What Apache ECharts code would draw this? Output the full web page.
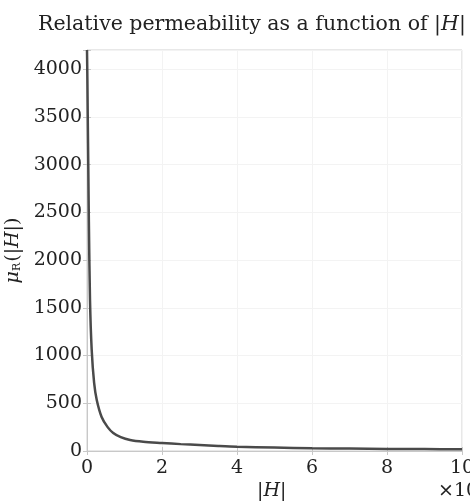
<!DOCTYPE html>
<html>
<head>
<meta charset="utf-8">
<script src="https://cdn.jsdelivr.net/npm/echarts@6/dist/echarts.min.js"></script>
<style>
  html, body { margin: 0; padding: 0; background: #fff; }
  #main { width: 470px; height: 503px; }
</style>
</head>
<body>
<div id="main"></div>
<script>
// |H| (x10^4) and relative permeability
var hValues = [0, 0.01, 0.02, 0.035, 0.05, 0.08, 0.125, 0.19, 0.26, 0.39, 0.55, 0.7, 0.9, 1.15, 1.5, 2, 2.5, 3, 3.5, 4, 5, 6, 7, 8, 9, 10];
var muValues = [4200, 3900, 3500, 2950, 2400, 1585, 1060, 714, 535, 357, 250, 189, 145, 115, 97, 84, 72, 62, 52, 44, 36, 28, 25, 22, 20, 18];
var xTicks = [0, 2, 4, 6, 8, 10];
var yTicks = [0, 500, 1000, 1500, 2000, 2500, 3000, 3500, 4000];

var serif = 'DejaVu Serif';
var points = [];
for (var i = 0; i < hValues.length; i++) {
    points.push([hValues[i], muValues[i]]);
}

var myChart = echarts.init(document.getElementById('main'));

var tickFmt = function (v) {
    return yTicks.indexOf(v) >= 0 ? String(v) : '';
};

option = {
    animation: false,
    backgroundColor: '#fff',
    grid: {
        left: 87, right: 8, top: 50, bottom: 52,
        containLabel: false, outerBoundsMode: 'none',
        show: true, borderColor: '#d0d0d0', borderWidth: 1
    },
    xAxis: [{
        type: 'value', min: 0, max: 10, interval: 2,
        axisLine: { lineStyle: { color: '#c8c8c8' } },
        axisTick: { inside: true, length: 4, lineStyle: { color: '#c8c8c8' } },
        splitLine: { show: true, lineStyle: { color: '#f3f3f3' } },
        axisLabel: { color: '#222', fontFamily: serif, fontSize: 19, margin: 8 }
    }, {
        type: 'value', min: 0, max: 10, interval: 2, position: 'top',
        axisLine: { show: false },
        axisTick: { inside: true, length: 4, lineStyle: { color: '#c8c8c8' } },
        splitLine: { show: false },
        axisLabel: { show: false }
    }],
    yAxis: [{
        type: 'value', min: 0, max: 4200, interval: 500,
        axisLine: { show: true, lineStyle: { color: '#c8c8c8' } },
        axisTick: { inside: true, length: 4, lineStyle: { color: '#c8c8c8' } },
        splitLine: { show: true, lineStyle: { color: '#f3f3f3' } },
        axisLabel: { color: '#222', fontFamily: serif, fontSize: 19, margin: 5, formatter: tickFmt },
        name: '{i|μ}{s|R}{n|(|}{i|H}{n||)}',
        nameLocation: 'middle', nameRotate: 90, nameGap: 62,
        nameTextStyle: {
            color: '#222',
            rich: {
                i: { fontFamily: serif, fontStyle: 'italic', fontSize: 19, color: '#222' },
                n: { fontFamily: serif, fontSize: 19, color: '#222' },
                s: { fontFamily: serif, fontSize: 11, color: '#222', verticalAlign: 'bottom', padding: [8, 1, 0, 0] }
            }
        }
    }, {
        type: 'value', min: 0, max: 4200, interval: 500, position: 'right',
        axisLine: { show: false },
        axisTick: { inside: true, length: 4, lineStyle: { color: '#c8c8c8' } },
        splitLine: { show: false },
        axisLabel: { show: false }
    }],
    series: [{
        type: 'line',
        data: points,
        xAxisIndex: 0,
        yAxisIndex: 0,
        showSymbol: false,
        smooth: 0.3,
        lineStyle: { color: '#4a4a4a', width: 2.5 }
    }],
    graphic: [{
        type: 'text', left: 38, top: 14,
        style: {
            text: '{a|Relative permeability as a function of |}{b|H}{a||}',
            rich: {
                a: { fontFamily: serif, fontSize: 20.5, fill: '#222' },
                b: { fontFamily: serif, fontSize: 20.5, fontStyle: 'italic', fill: '#222' }
            }
        }
    }, {
        type: 'text', left: 257, top: 482,
        style: {
            text: '{a||}{b|H}{a||}',
            rich: {
                a: { fontFamily: serif, fontSize: 19, fill: '#222' },
                b: { fontFamily: serif, fontSize: 19, fontStyle: 'italic', fill: '#222' }
            }
        }
    }, {
        type: 'text', left: 438, top: 482,
        style: { text: '×10', font: '19px "DejaVu Serif"', fill: '#222' }
    }]
};

myChart.setOption(option);

window.addEventListener("resize", function () {
    myChart.resize();
});
</script>
</body>
</html>
